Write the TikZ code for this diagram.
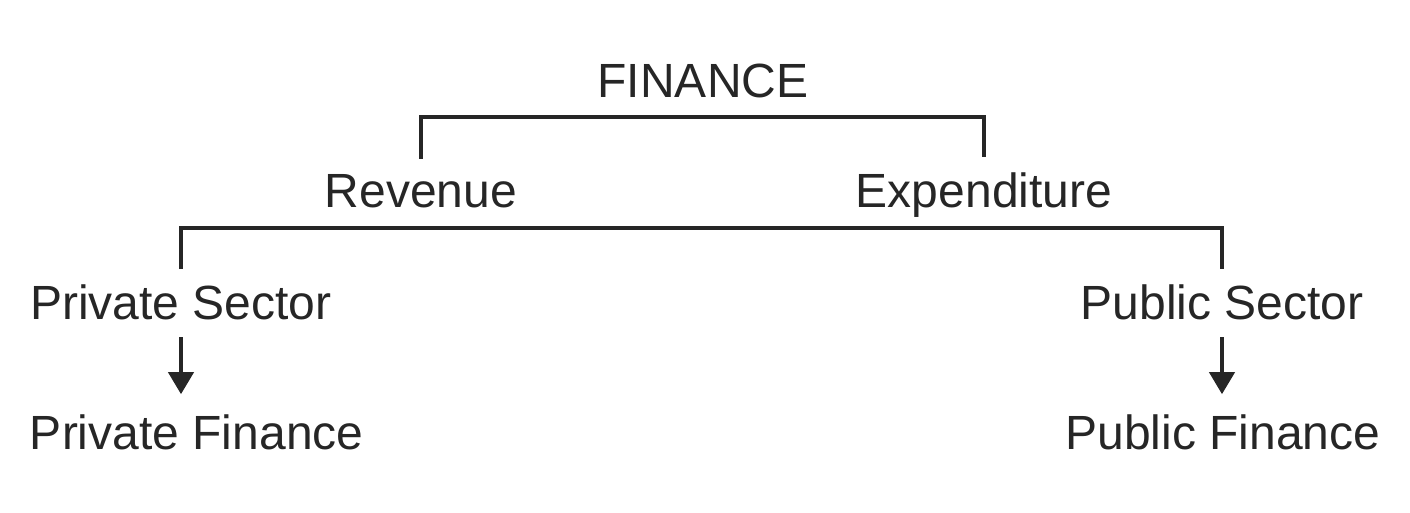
\documentclass[tikz,border=0pt]{standalone}
\usepackage{fontspec}
\setmainfont{Liberation Sans}
\usetikzlibrary{arrows, arrows.meta}
\usetikzlibrary{calc}

\begin{document}
\begin{tikzpicture}[x=0.5pt, y=-0.5pt,
    lbl/.style={inner sep=0pt, outer sep=0pt, anchor=base, font=\fontsize{24}{28}\selectfont, text=black!85},
    link/.style={draw=black!85, line width=2pt},
    arr/.style={link, -{Triangle[length=11pt, width=12.5pt]}}]
    \useasboundingbox (0,0) rectangle (1410,513);

    \node[lbl] (fin) at (703,98) {FINANCE};
    \node[lbl] (rev) at (421,208) {Revenue};
    \node[lbl] (exp) at (984,208) {Expenditure};
    \node[lbl] (prs) at (181,320) {Private Sector};
    \node[lbl] (pus) at (1222,320) {Public Sector};
    \node[lbl, anchor=base west] (prf) at (30,450) {Private Finance};
    \node[lbl] (puf) at (1223,450) {Public Finance};

    \coordinate (b1) at (703,117);
    \coordinate (b2) at (703,228);

    \draw[link, shorten <=8pt, shorten >=8pt] (rev.north) |- (b1) -| (exp.north);
    \draw[link, shorten <=8pt, shorten >=8pt] (prs.north) |- (b2) -| (pus.north);

    \draw[arr, shorten <=8.5pt, shorten >=10.5pt] (prs.south) -- (prs.south |- prf.north);
    \draw[arr, shorten <=8.5pt, shorten >=10.5pt] (pus.south) -- (pus.south |- puf.north);
  \end{tikzpicture}
\end{document}
